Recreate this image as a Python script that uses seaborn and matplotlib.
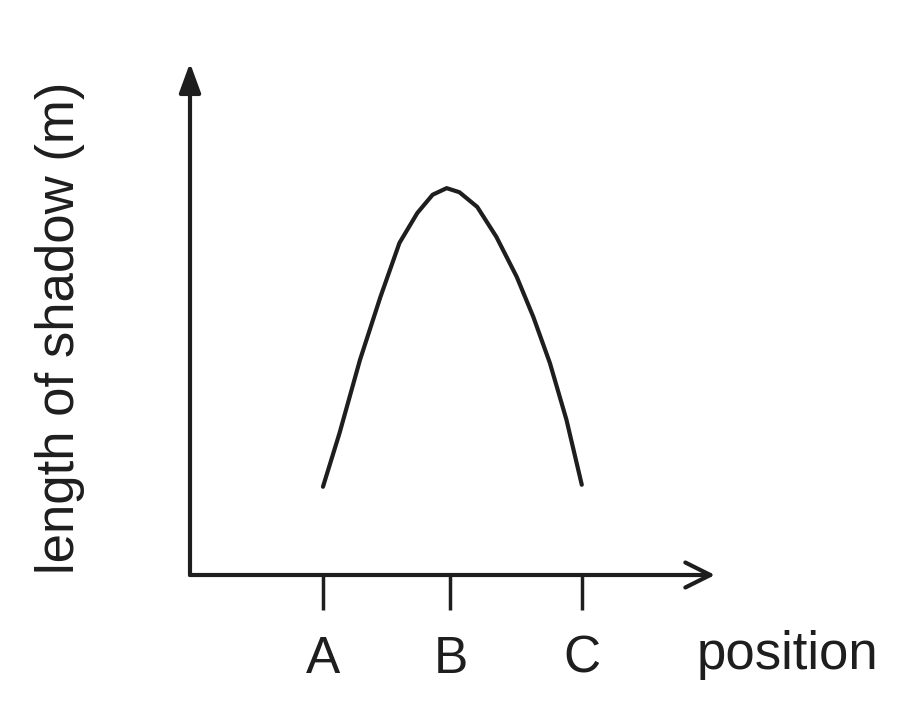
import matplotlib
matplotlib.use("Agg")
import matplotlib.pyplot as plt
import seaborn as sns
import pandas as pd

# 曲线上读取的点 (位置, 影长)
position = [1.00, 1.13, 1.29, 1.45, 1.60, 1.74, 1.86, 1.97, 2.07, 2.21,
            2.36, 2.52, 2.65, 2.78, 2.91, 3.03]
shadow = [1.74, 2.80, 4.24, 5.48, 6.55, 7.14, 7.50, 7.63, 7.55, 7.26,
          6.67, 5.88, 5.09, 4.18, 3.06, 1.78]

tick_pos = [1.00, 2.00, 3.03]
tick_labels = ['A', 'B', 'C']

sns.set_theme(style='white')
plt.rcParams['font.family'] = ['Liberation Sans', 'DejaVu Sans']

ink = '#1e1e1e'
fig = plt.figure(figsize=(9.01, 7.16), dpi=100)
ax = fig.add_axes([190 / 901, 141 / 716, 525 / 901, 507 / 716])

df = pd.DataFrame({'position': position, 'shadow': shadow})
sns.lineplot(data=df, x='position', y='shadow', ax=ax, color=ink, lw=3, sort=False)

ax.set_xlim(-0.043, 4.075)
ax.set_ylim(0, 10)
for s in ax.spines.values():
    s.set_visible(False)

ax.set_xticks(tick_pos, tick_labels)
ax.set_yticks([])
ax.tick_params(axis='x', bottom=True, direction='out', length=25, width=2.5,
               color=ink, pad=18, labelsize=37, labelcolor=ink)
ax.set_xlabel('')
ax.set_ylabel('')

# 坐标轴箭头
ax.annotate('', xy=(1, 0), xytext=(0, 0), xycoords='axes fraction',
            arrowprops=dict(arrowstyle='->, head_length=0.6, head_width=0.3',
                            lw=3, color=ink, shrinkA=0, shrinkB=0, mutation_scale=30))
ax.annotate('', xy=(0, 1.01), xytext=(0, 0), xycoords='axes fraction',
            arrowprops=dict(arrowstyle='-|>, head_length=0.6, head_width=0.22',
                            lw=3, color=ink, shrinkA=0, shrinkB=0, mutation_scale=30))

ax.text(0.966, -0.158, 'position', transform=ax.transAxes, ha='left', va='center',
        fontsize=38, color=ink, clip_on=False)
fig.text(60 / 901, 1 - 328 / 716, 'length of shadow (m)', rotation=90,
         ha='center', va='center', fontsize=38, color=ink)

fig.savefig('out.png', dpi=100)
